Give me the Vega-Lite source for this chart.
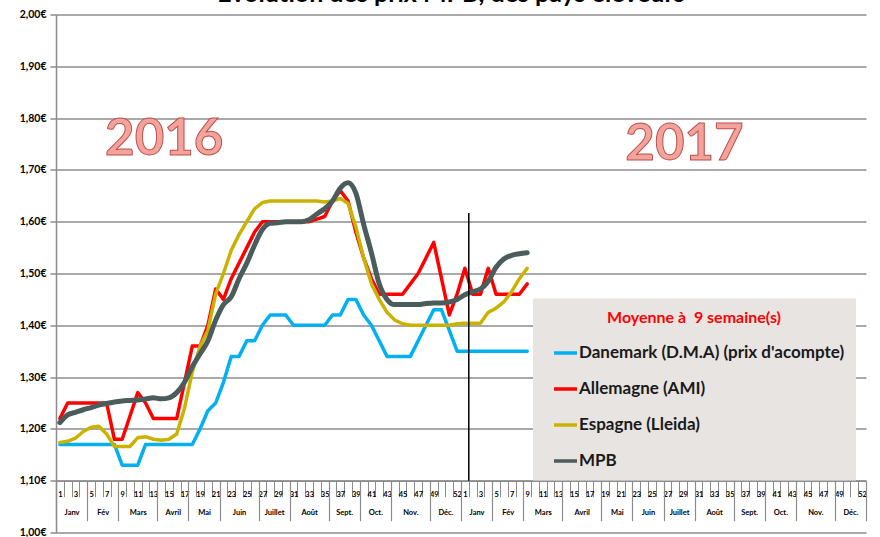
{
  "$schema": "https://vega.github.io/schema/vega-lite/v6.json",
  "width": 810,
  "height": 518,
  "autosize": {"type": "none"},
  "padding": {"left": 56, "top": 14.5, "right": 14, "bottom": 4.5},
  "background": "#ffffff",
  "title": {"text": "Evolution des prix MPB, des pays éleveurs", "fontSize": 25, "font": "Lato", "fontWeight": "bold", "color": "#000000", "anchor": "middle", "offset": 0, "dx": -10, "dy": -3},
  "config": {"view": {"stroke": null}, "font": "Lato"},
  "datasets": {
    "prix": [
      {"i": 1, "Danemark": 1.17, "Allemagne": 1.22, "Espagne": 1.174, "MPB": 1.212},
      {"i": 2, "Danemark": 1.17, "Allemagne": 1.25, "Espagne": 1.176, "MPB": 1.227},
      {"i": 3, "Danemark": 1.17, "Allemagne": 1.25, "Espagne": 1.182, "MPB": 1.232},
      {"i": 4, "Danemark": 1.17, "Allemagne": 1.25, "Espagne": 1.195, "MPB": 1.237},
      {"i": 5, "Danemark": 1.17, "Allemagne": 1.25, "Espagne": 1.203, "MPB": 1.241},
      {"i": 6, "Danemark": 1.17, "Allemagne": 1.25, "Espagne": 1.205, "MPB": 1.246},
      {"i": 7, "Danemark": 1.17, "Allemagne": 1.25, "Espagne": 1.19, "MPB": 1.249},
      {"i": 8, "Danemark": 1.17, "Allemagne": 1.18, "Espagne": 1.166, "MPB": 1.252},
      {"i": 9, "Danemark": 1.13, "Allemagne": 1.18, "Espagne": 1.166, "MPB": 1.254},
      {"i": 10, "Danemark": 1.13, "Allemagne": 1.225, "Espagne": 1.166, "MPB": 1.255},
      {"i": 11, "Danemark": 1.13, "Allemagne": 1.27, "Espagne": 1.183, "MPB": 1.256},
      {"i": 12, "Danemark": 1.17, "Allemagne": 1.25, "Espagne": 1.185, "MPB": 1.258},
      {"i": 13, "Danemark": 1.17, "Allemagne": 1.22, "Espagne": 1.18, "MPB": 1.26},
      {"i": 14, "Danemark": 1.17, "Allemagne": 1.22, "Espagne": 1.178, "MPB": 1.258},
      {"i": 15, "Danemark": 1.17, "Allemagne": 1.22, "Espagne": 1.18, "MPB": 1.26},
      {"i": 16, "Danemark": 1.17, "Allemagne": 1.22, "Espagne": 1.19, "MPB": 1.27},
      {"i": 17, "Danemark": 1.17, "Allemagne": 1.29, "Espagne": 1.24, "MPB": 1.29},
      {"i": 18, "Danemark": 1.17, "Allemagne": 1.36, "Espagne": 1.31, "MPB": 1.32},
      {"i": 19, "Danemark": 1.2, "Allemagne": 1.36, "Espagne": 1.36, "MPB": 1.345},
      {"i": 20, "Danemark": 1.235, "Allemagne": 1.4, "Espagne": 1.39, "MPB": 1.37},
      {"i": 21, "Danemark": 1.25, "Allemagne": 1.47, "Espagne": 1.46, "MPB": 1.41},
      {"i": 22, "Danemark": 1.29, "Allemagne": 1.45, "Espagne": 1.5, "MPB": 1.44},
      {"i": 23, "Danemark": 1.34, "Allemagne": 1.49, "Espagne": 1.545, "MPB": 1.455},
      {"i": 24, "Danemark": 1.34, "Allemagne": 1.52, "Espagne": 1.575, "MPB": 1.49},
      {"i": 25, "Danemark": 1.37, "Allemagne": 1.55, "Espagne": 1.6, "MPB": 1.52},
      {"i": 26, "Danemark": 1.37, "Allemagne": 1.58, "Espagne": 1.625, "MPB": 1.555},
      {"i": 27, "Danemark": 1.4, "Allemagne": 1.6, "Espagne": 1.637, "MPB": 1.585},
      {"i": 28, "Danemark": 1.42, "Allemagne": 1.6, "Espagne": 1.64, "MPB": 1.597},
      {"i": 29, "Danemark": 1.42, "Allemagne": 1.6, "Espagne": 1.64, "MPB": 1.598},
      {"i": 30, "Danemark": 1.42, "Allemagne": 1.6, "Espagne": 1.64, "MPB": 1.6},
      {"i": 31, "Danemark": 1.4, "Allemagne": 1.6, "Espagne": 1.64, "MPB": 1.6},
      {"i": 32, "Danemark": 1.4, "Allemagne": 1.6, "Espagne": 1.64, "MPB": 1.6},
      {"i": 33, "Danemark": 1.4, "Allemagne": 1.6, "Espagne": 1.64, "MPB": 1.604},
      {"i": 34, "Danemark": 1.4, "Allemagne": 1.605, "Espagne": 1.64, "MPB": 1.615},
      {"i": 35, "Danemark": 1.4, "Allemagne": 1.61, "Espagne": 1.638, "MPB": 1.625},
      {"i": 36, "Danemark": 1.42, "Allemagne": 1.64, "Espagne": 1.64, "MPB": 1.64},
      {"i": 37, "Danemark": 1.42, "Allemagne": 1.66, "Espagne": 1.645, "MPB": 1.665},
      {"i": 38, "Danemark": 1.45, "Allemagne": 1.64, "Espagne": 1.635, "MPB": 1.675},
      {"i": 39, "Danemark": 1.45, "Allemagne": 1.58, "Espagne": 1.59, "MPB": 1.655},
      {"i": 40, "Danemark": 1.42, "Allemagne": 1.53, "Espagne": 1.53, "MPB": 1.595},
      {"i": 41, "Danemark": 1.4, "Allemagne": 1.49, "Espagne": 1.48, "MPB": 1.54},
      {"i": 42, "Danemark": 1.37, "Allemagne": 1.46, "Espagne": 1.45, "MPB": 1.48},
      {"i": 43, "Danemark": 1.34, "Allemagne": 1.46, "Espagne": 1.425, "MPB": 1.45},
      {"i": 44, "Danemark": 1.34, "Allemagne": 1.46, "Espagne": 1.41, "MPB": 1.44},
      {"i": 45, "Danemark": 1.34, "Allemagne": 1.46, "Espagne": 1.403, "MPB": 1.44},
      {"i": 46, "Danemark": 1.34, "Allemagne": 1.48, "Espagne": 1.4, "MPB": 1.44},
      {"i": 47, "Danemark": 1.37, "Allemagne": 1.5, "Espagne": 1.4, "MPB": 1.44},
      {"i": 48, "Danemark": 1.4, "Allemagne": 1.53, "Espagne": 1.4, "MPB": 1.442},
      {"i": 49, "Danemark": 1.43, "Allemagne": 1.56, "Espagne": 1.4, "MPB": 1.443},
      {"i": 50, "Danemark": 1.43, "Allemagne": 1.49, "Espagne": 1.4, "MPB": 1.443},
      {"i": 51, "Danemark": 1.39, "Allemagne": 1.42, "Espagne": 1.4, "MPB": 1.445},
      {"i": 52, "Danemark": 1.35, "Allemagne": 1.46, "Espagne": 1.403, "MPB": 1.45},
      {"i": 53, "Danemark": 1.35, "Allemagne": 1.51, "Espagne": 1.404, "MPB": 1.459},
      {"i": 54, "Danemark": 1.35, "Allemagne": 1.46, "Espagne": 1.404, "MPB": 1.465},
      {"i": 55, "Danemark": 1.35, "Allemagne": 1.46, "Espagne": 1.404, "MPB": 1.47},
      {"i": 56, "Danemark": 1.35, "Allemagne": 1.51, "Espagne": 1.425, "MPB": 1.485},
      {"i": 57, "Danemark": 1.35, "Allemagne": 1.46, "Espagne": 1.433, "MPB": 1.512},
      {"i": 58, "Danemark": 1.35, "Allemagne": 1.46, "Espagne": 1.445, "MPB": 1.528},
      {"i": 59, "Danemark": 1.35, "Allemagne": 1.46, "Espagne": 1.465, "MPB": 1.535},
      {"i": 60, "Danemark": 1.35, "Allemagne": 1.46, "Espagne": 1.49, "MPB": 1.538},
      {"i": 61, "Danemark": 1.35, "Allemagne": 1.48, "Espagne": 1.51, "MPB": 1.54}
    ]
  },
  "resolve": {"axis": {"x": "independent"}},
  "layer": [
    {
      "data": {"name": "prix"},
      "transform": [
        {"fold": ["Danemark", "Allemagne", "Espagne", "MPB"], "as": ["serie", "prix"]},
        {"filter": "datum.serie != 'MPB'"}
      ],
      "mark": {"type": "line", "strokeWidth": 3.5, "strokeJoin": "round", "strokeCap": "round"},
      "encoding": {
        "x": {
          "field": "i", "type": "quantitative",
          "scale": {"domain": [0.5, 104.5], "nice": false, "zero": false},
          "axis": {
            "orient": "bottom", "offset": -51.8, "title": null, "grid": false,
            "values": [0.5,1.5,2.5,3.5,4.5,5.5,6.5,7.5,8.5,9.5,10.5,11.5,12.5,13.5,14.5,15.5,16.5,17.5,18.5,19.5,20.5,21.5,22.5,23.5,24.5,25.5,26.5,27.5,28.5,29.5,30.5,31.5,32.5,33.5,34.5,35.5,36.5,37.5,38.5,39.5,40.5,41.5,42.5,43.5,44.5,45.5,46.5,47.5,48.5,49.5,50.5,51.5,52.5,53.5,54.5,55.5,56.5,57.5,58.5,59.5,60.5,61.5,62.5,63.5,64.5,65.5,66.5,67.5,68.5,69.5,70.5,71.5,72.5,73.5,74.5,75.5,76.5,77.5,78.5,79.5,80.5,81.5,82.5,83.5,84.5,85.5,86.5,87.5,88.5,89.5,90.5,91.5,92.5,93.5,94.5,95.5,96.5,97.5,98.5,99.5,100.5,101.5,102.5,103.5,104.5],
            "labelExpr": "(datum.value < 104 && ((datum.value + 0.5) % 52 == 0 || (((datum.value + 0.5) % 52) % 2 == 1 && ((datum.value + 0.5) % 52) <= 49))) ? (((datum.value + 0.5) % 52 == 0) ? '52' : '' + ((datum.value + 0.5) % 52)) : ''",
            "labelOffset": 3.9, "labelPadding": -6, "labelFontSize": 7.5, "labelFontWeight": "bold", "labelColor": "#000000",
            "labelAngle": 0, "labelOverlap": false, "labelFlush": false, "labelBound": false,
            "domain": true, "domainColor": "#8c8c8c", "domainWidth": 1.5,
            "ticks": true, "tickSize": 16, "tickColor": "#8c8c8c", "tickWidth": 1
          }
        },
        "y": {
          "field": "prix", "type": "quantitative",
          "scale": {"domain": [1, 2], "nice": false, "zero": false},
          "axis": {
            "title": null, "values": [1, 1.1, 1.2, 1.3, 1.4, 1.5, 1.6, 1.7, 1.8, 1.9, 2],
            "labelExpr": "replace(format(datum.value, '.2f'), '.', ',') + '€'",
            "grid": true, "gridColor": "#8c8c8c", "gridWidth": 1.5,
            "domainColor": "#8c8c8c", "domainWidth": 1.5,
            "tickColor": "#8c8c8c", "tickSize": 6, "tickWidth": 1.5,
            "labelFontSize": 10.5, "labelFontWeight": "bold", "labelColor": "#000000", "labelPadding": 4
          }
        },
        "color": {
          "field": "serie", "type": "nominal",
          "scale": {"domain": ["Danemark", "Allemagne", "Espagne", "MPB"], "range": ["#00b0f0", "#ff0000", "#c9b300", "#4b5c5c"]},
          "legend": {
            "orient": "none", "legendX": 477, "legendY": 284,
            "title": "Moyenne à\u00a0 9 semaine(s)", "titleAnchor": "middle",
            "titleColor": "#ff0000", "titleFontSize": 16, "titleFontWeight": "bold", "titleFont": "Lato", "titlePadding": 14,
            "fillColor": "#e7e4e1", "padding": 11,
            "labelFontSize": 17, "labelFontWeight": "bold", "labelFont": "Lato", "labelColor": "#1a1a1a", "labelLimit": 400,
            "labelExpr": "datum.label == 'Danemark' ? \"Danemark (D.M.A) (prix d'acompte)\" : datum.label == 'Allemagne' ? 'Allemagne (AMI)' : datum.label == 'Espagne' ? 'Espagne (Lleida)' : datum.label",
            "symbolType": "stroke", "symbolSize": 529, "symbolStrokeWidth": 3.5, "symbolOffset": 8, "labelOffset": 0, "rowPadding": 14
          }
        }
      }
    },
    {
      "data": {"name": "prix"},
      "transform": [
        {"fold": ["Danemark", "Allemagne", "Espagne", "MPB"], "as": ["serie", "prix"]},
        {"filter": "datum.serie == 'MPB'"}
      ],
      "mark": {"type": "line", "strokeWidth": 5, "interpolate": "monotone", "strokeJoin": "round", "strokeCap": "round"},
      "encoding": {
        "x": {"field": "i", "type": "quantitative", "scale": {"domain": [0.5, 104.5], "nice": false, "zero": false}, "axis": null},
        "y": {"field": "prix", "type": "quantitative"},
        "color": {"field": "serie", "type": "nominal"}
      }
    },
    {
      "data": {"values": [{"i": 53.5}]},
      "mark": {"type": "rule", "color": "#000000", "strokeWidth": 1.5},
      "encoding": {
        "x": {
          "field": "i", "type": "quantitative", "scale": {"domain": [0.5, 104.5], "nice": false, "zero": false},
          "axis": {
            "orient": "bottom", "offset": -51.8, "title": null, "grid": false, "domain": false, "ticks": false, "tickSize": 0,
            "values": [2.5, 6.5, 11, 15.5, 19.5, 24, 28.5, 33, 37.5, 41.5, 46, 50.5, 54.5, 58.5, 63, 68, 72.5, 76.5, 80.5, 85, 89.5, 93.5, 98, 102.5],
            "labelExpr": "['Janv','Fév','Mars','Avril','Mai','Juin','Juillet','Août','Sept.','Oct.','Nov.','Déc.','Janv','Fév','Mars','Avril','Mai','Juin','Juillet','Août','Sept.','Oct.','Nov.','Déc.'][indexof([2.5, 6.5, 11, 15.5, 19.5, 24, 28.5, 33, 37.5, 41.5, 46, 50.5, 54.5, 58.5, 63, 68, 72.5, 76.5, 80.5, 85, 89.5, 93.5, 98, 102.5], datum.value)]",
            "labelPadding": 27.5, "labelFontSize": 7.5, "labelFontWeight": "bold", "labelColor": "#000000",
            "labelAngle": 0, "labelOverlap": false, "labelFlush": false, "labelBound": false
          }
        },
        "y": {"datum": 1.1, "type": "quantitative"},
        "y2": {"datum": 1.617}
      }
    },
    {
      "data": {"values": [{"i": 14.4, "v": 1.758, "t": "2016"}, {"i": 81.2, "v": 1.748, "t": "2017"}]},
      "mark": {"type": "text", "fontSize": 51, "fontWeight": "bold", "font": "Lato", "fill": "#f4a29c", "stroke": "#b9504b", "strokeWidth": 1, "baseline": "middle", "align": "center"},
      "encoding": {
        "x": {
          "field": "i", "type": "quantitative", "scale": {"domain": [0.5, 104.5], "nice": false, "zero": false},
          "axis": {
            "orient": "bottom", "offset": -51.8, "title": null, "grid": false, "domain": false, "labels": false,
            "values": [0.5, 4.5, 8.5, 13.5, 17.5, 21.5, 26.5, 30.5, 35.5, 39.5, 43.5, 48.5, 52.5, 56.5, 60.5, 65.5, 70.5, 74.5, 78.5, 82.5, 87.5, 91.5, 95.5, 100.5, 104.5],
            "ticks": true, "tickSize": 40, "tickColor": "#8c8c8c", "tickWidth": 1.2
          }
        },
        "y": {"field": "v", "type": "quantitative"},
        "text": {"field": "t"}
      }
    }
  ]
}
